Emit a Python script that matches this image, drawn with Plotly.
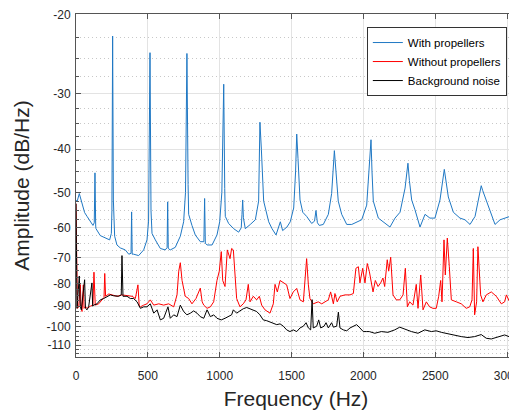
import math
import plotly.graph_objects as go

# ---------------- data ----------------
freq_with = [0, 7, 23, 42, 60, 77, 100, 118, 127, 132, 137, 139, 169, 193, 216, 234, 246, 250, 255, 260,
             269, 285, 308, 343, 367, 383, 387, 391, 401, 436, 471, 494, 505, 515, 522, 529, 552, 587, 621, 634,
             638, 642, 656, 691, 726, 749, 762, 772, 780, 784, 807, 830, 865, 890, 895, 900, 912, 947, 981, 1000,
             1015, 1028, 1035, 1039, 1062, 1097, 1132, 1150, 1155, 1160, 1165, 1178, 1213, 1248, 1271, 1280, 1290, 1306, 1341, 1364,
             1392, 1422, 1438, 1468, 1491, 1515, 1528, 1536, 1545, 1559, 1578, 1605, 1640, 1660, 1670, 1680, 1693, 1721, 1756, 1779,
             1798, 1810, 1825, 1849, 1884, 1919, 1953, 1988, 2023, 2053, 2060, 2069, 2104, 2139, 2185, 2220, 2255, 2290, 2310, 2320,
             2336, 2359, 2394, 2429, 2463, 2498, 2533, 2563, 2575, 2591, 2626, 2672, 2707, 2742, 2777, 2800, 2820, 2830, 2846, 2881,
             2916, 2951, 2985, 3020, 3043, 3067]
amp_with = [-52.0, -52.5, -50.3, -52.8, -55.5, -56.6, -58.2, -59.3, -58.5, -45.2, -59.5, -60.3, -62.5, -63.0, -63.3, -63.9, -61.8, -55.0, -22.3, -52.0,
            -62.7, -65.6, -66.6, -67.3, -68.8, -68.5, -55.3, -68.8, -68.8, -69.3, -67.3, -63.9, -58.0, -24.3, -55.0, -61.8, -63.9, -66.8, -67.3, -66.5,
            -52.5, -66.8, -67.3, -66.4, -62.7, -58.2, -50.0, -24.4, -48.0, -56.0, -59.3, -62.3, -64.5, -64.5, -51.6, -65.0, -65.6, -65.6, -62.3, -58.2,
            -50.0, -28.6, -49.0, -56.6, -58.7, -60.3, -61.4, -60.0, -56.0, -52.0, -57.0, -60.3, -59.0, -57.6, -52.3, -34.8, -40.0, -52.3, -58.2, -60.3,
            -62.3, -58.2, -60.9, -59.8, -58.2, -54.2, -45.0, -37.0, -42.0, -52.0, -55.4, -56.6, -58.7, -58.0, -54.9, -58.5, -59.3, -59.0, -56.0, -50.3,
            -40.3, -46.0, -52.3, -56.0, -59.0, -59.0, -58.2, -57.6, -53.4, -38.1, -45.0, -52.3, -57.1, -58.2, -59.8, -57.1, -55.4, -48.9, -43.0, -47.0,
            -52.0, -54.7, -59.8, -56.0, -57.1, -57.1, -52.0, -44.4, -47.0, -51.2, -55.4, -57.1, -57.6, -59.0, -56.6, -52.0, -48.3, -49.5, -51.2, -55.4,
            -59.0, -57.6, -57.1, -56.6, -53.4, -46.6]

freq_without = [0, 5, 10, 19, 30, 36, 42, 51, 56, 65, 77, 100, 118, 125, 130, 134, 158, 181, 195, 200,
                206, 228, 251, 285, 320, 355, 390, 413, 431, 440, 448, 471, 494, 517, 541, 576, 610, 645, 680, 703,
                715, 726, 738, 760, 784, 807, 835, 865, 878, 889, 912, 935, 958, 981, 997, 1011, 1021, 1037, 1053, 1072,
                1083, 1095, 1107, 1118, 1141, 1164, 1183, 1199, 1211, 1234, 1257, 1276, 1292, 1315, 1350, 1373, 1385, 1401, 1420, 1443,
                1466, 1489, 1512, 1536, 1559, 1582, 1594, 1605, 1617, 1628, 1651, 1686, 1710, 1733, 1756, 1772, 1791, 1802, 1818, 1837,
                1872, 1907, 1930, 1948, 1965, 1976, 1995, 2011, 2027, 2041, 2055, 2067, 2083, 2102, 2120, 2136, 2148, 2166, 2176, 2190,
                2206, 2229, 2253, 2276, 2292, 2306, 2322, 2345, 2368, 2380, 2399, 2415, 2438, 2461, 2484, 2507, 2524, 2538, 2547, 2561,
                2570, 2584, 2598, 2612, 2647, 2681, 2716, 2740, 2756, 2765, 2774, 2788, 2797, 2807, 2816, 2832, 2855, 2890, 2925, 2960,
                2983, 2995, 3018, 3053, 3069]
amp_without = [-53.0, -75.0, -91.0, -90.3, -80.5, -91.0, -92.5, -80.6, -91.0, -90.3, -91.0, -90.0, -89.5, -75.5, -89.5, -89.5, -88.9, -87.1, -86.0, -76.0,
               -85.5, -84.5, -84.9, -85.5, -84.9, -85.3, -85.5, -86.5, -80.6, -90.0, -90.3, -89.5, -88.9, -87.1, -89.5, -88.9, -89.5, -88.9, -90.3, -84.9,
               -75.1, -71.9, -78.8, -85.5, -86.5, -88.9, -86.5, -82.0, -88.0, -89.5, -91.0, -90.3, -88.0, -78.8, -75.1, -67.9, -78.8, -81.3, -67.3, -70.4,
               -66.8, -67.3, -75.1, -86.5, -90.3, -88.9, -87.1, -80.4, -88.0, -85.5, -87.1, -85.5, -89.5, -91.7, -93.3, -88.9, -80.4, -83.6, -78.8, -79.8,
               -80.6, -86.5, -83.6, -82.1, -87.1, -88.0, -79.8, -70.4, -80.6, -86.5, -88.9, -88.0, -88.9, -88.0, -87.1, -83.6, -88.9, -84.3, -88.0, -85.5,
               -84.9, -84.9, -84.3, -74.0, -73.4, -79.8, -74.0, -79.8, -72.2, -75.1, -78.8, -83.6, -78.8, -81.3, -79.8, -77.8, -81.3, -70.8, -75.1, -69.9,
               -84.9, -87.1, -87.1, -84.9, -74.0, -90.3, -88.0, -89.5, -80.4, -91.0, -76.6, -91.7, -88.0, -90.3, -91.0, -91.0, -85.5, -78.8, -88.0, -63.9,
               -76.6, -63.3, -73.4, -87.1, -88.0, -88.9, -91.0, -90.3, -87.1, -66.8, -94.1, -88.0, -66.2, -74.0, -84.9, -88.0, -84.9, -83.6, -85.5, -88.9,
               -88.0, -84.9, -88.0, -84.9, -86.5]

freq_bg = [0, 5, 7, 23, 30, 37, 60, 66, 77, 88, 111, 116, 123, 146, 169, 193, 216, 239, 262, 297,
           315, 320, 327, 355, 378, 401, 425, 448, 471, 494, 517, 541, 564, 587, 610, 640, 656, 680, 703, 726,
           749, 772, 796, 819, 842, 865, 889, 912, 935, 958, 981, 1011, 1037, 1060, 1083, 1095, 1118, 1141, 1164, 1188,
           1211, 1234, 1257, 1280, 1303, 1327, 1350, 1373, 1397, 1420, 1443, 1466, 1489, 1512, 1536, 1559, 1582, 1601, 1617, 1633,
           1643, 1651, 1675, 1689, 1703, 1726, 1740, 1756, 1779, 1791, 1814, 1826, 1837, 1860, 1884, 1907, 1930, 1953, 1976, 1999,
           2023, 2041, 2079, 2125, 2171, 2218, 2253, 2287, 2334, 2380, 2427, 2473, 2507, 2542, 2589, 2635, 2681, 2728, 2774, 2820,
           2855, 2890, 2937, 2983, 3029, 3069]
amp_bg = [-53.0, -78.0, -91.0, -77.0, -90.0, -91.7, -78.5, -91.0, -91.7, -90.3, -79.8, -90.0, -89.5, -88.9, -87.1, -86.5, -85.5, -84.9, -85.3, -85.5,
          -84.9, -69.3, -85.5, -85.5, -86.5, -86.5, -88.0, -91.0, -90.3, -90.3, -88.9, -93.3, -91.7, -96.6, -95.8, -90.3, -95.8, -94.1, -95.0, -89.5,
          -92.5, -94.1, -93.3, -92.2, -93.3, -95.0, -95.8, -91.7, -95.0, -94.1, -95.8, -96.6, -95.8, -95.0, -94.1, -91.7, -93.3, -92.2, -91.2, -90.6,
          -91.2, -91.7, -92.5, -94.1, -96.6, -97.0, -97.6, -98.6, -99.0, -98.6, -99.8, -101.7, -102.6, -101.7, -102.6, -100.7, -99.8, -98.0, -100.7, -101.7,
          -87.0, -100.7, -99.8, -96.6, -100.7, -99.8, -98.0, -100.7, -98.0, -100.3, -99.8, -92.8, -100.7, -101.7, -102.2, -100.7, -99.8, -99.0, -100.7, -102.6,
          -102.6, -102.6, -103.5, -102.6, -103.0, -101.7, -100.3, -101.3, -102.6, -103.5, -101.7, -102.6, -102.2, -103.0, -103.9, -104.4, -105.3, -105.8, -105.3, -104.2,
          -106.2, -106.6, -105.3, -104.4, -105.8, -105.3]

series_names = ["With propellers", "Without propellers", "Background noise"]
series_colors = ["#1f78c4", "#ff0000", "#000000"]

y_major = [-20, -30, -40, -50, -60, -70, -80, -90, -100, -110]
y_minor = [-(20 + 2.5 * k) for k in range(1, 40) if (20 + 2.5 * k) % 10 != 0]
x_ticks = [0, 500, 1000, 1500, 2000, 2500, 3000]

# ---------------- figure ----------------
fig = go.Figure()
for f, a, name, col in zip([freq_with, freq_without, freq_bg],
                           [amp_with, amp_without, amp_bg],
                           series_names, series_colors):
    fig.add_trace(go.Scatter(x=f, y=[-v for v in a], mode="lines", name=name,
                             line=dict(color=col, width=1)))

axis_col = "#555555"
font_fam = "Liberation Sans, Arial, sans-serif"

# the page body adds an 8 px offset; margins compensate so the plot box lands at 76..516 x 14..357
fig.update_layout(
    width=517, height=415,
    margin=dict(l=68, r=9, t=6, b=66, autoexpand=False),
    paper_bgcolor="white", plot_bgcolor="white",
    font=dict(family=font_fam, size=12, color="#262626"),
    showlegend=True,
    legend=dict(x=0.661, y=0.962, xanchor="left", yanchor="top",
                bgcolor="white", bordercolor="#333333", borderwidth=1,
                font=dict(size=11.5, color="#000000"), tracegroupgap=0,
                itemwidth=30),
    xaxis=dict(range=[0, 3062], tickvals=x_ticks, ticks="inside", ticklen=5,
               tickcolor=axis_col, showline=True, linecolor=axis_col, linewidth=1,
               mirror="ticks", showgrid=True, gridcolor="#e3e3e3", gridwidth=1,
               zeroline=False, tickfont=dict(size=12, color="#262626"), automargin=True,
               ticklabelstandoff=8,
               title=dict(text="Frequency (Hz)", font=dict(size=21, color="#262626"), standoff=8)),
    yaxis=dict(type="log", range=[math.log10(117), math.log10(19.9)],
               tickvals=[-v for v in y_major], ticktext=[str(v) for v in y_major],
               ticks="inside", ticklen=5, tickcolor=axis_col,
               showline=True, linecolor=axis_col, linewidth=1, mirror="ticks",
               showgrid=True, gridcolor="#e3e3e3", gridwidth=1, zeroline=False,
               tickfont=dict(size=12, color="#262626"), automargin=True,
               ticklabelstandoff=2,
               minor=dict(tickvals=[-v for v in y_minor], ticks="inside", ticklen=3,
                          tickcolor=axis_col, showgrid=True, griddash="1px,3px",
                          gridcolor="#c8c8c8", gridwidth=1),
               title=dict(text="Amplitude (dB/Hz)", font=dict(size=21, color="#262626"), standoff=11)),
)

fig.write_html("out.html")
